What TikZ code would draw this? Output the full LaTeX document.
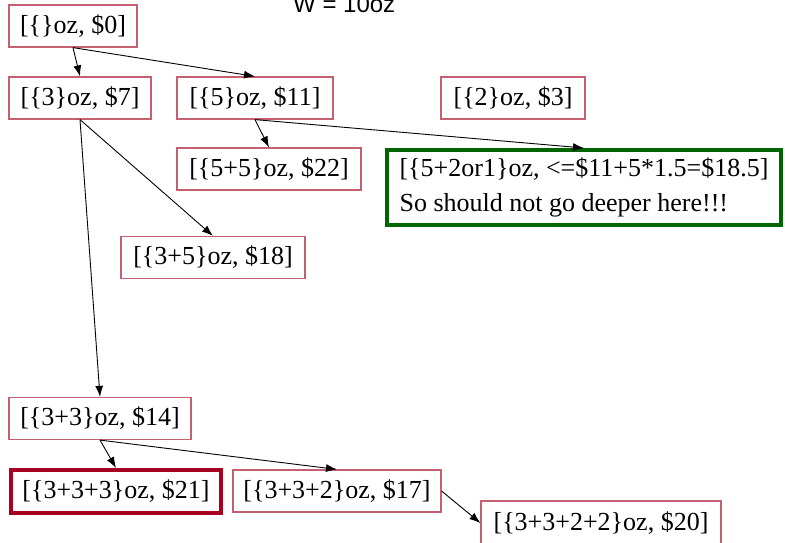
\documentclass[tikz,border=0pt]{standalone}
\usepackage{fontspec}
\setmainfont{Liberation Serif}
\newfontfamily\capfont{Liberation Sans}
\usetikzlibrary{arrows.meta}
\definecolor{boxred}{RGB}{196,96,112}
\definecolor{bestred}{RGB}{168,0,32}
\definecolor{stopgreen}{RGB}{0,100,0}

\begin{document}
\begin{tikzpicture}[x=1pt,y=-1pt,
  state/.style={draw=boxred,line width=1.2pt,fill=white,minimum height=42pt,inner sep=0pt,font=\fontsize{26}{31}\selectfont},
  best/.style={state,draw=bestred,line width=4pt},
  pruned/.style={state,draw=stopgreen,line width=4pt,align=left,font=\fontsize{26}{35}\selectfont},
  link/.style={-{Latex[length=11pt,width=8pt]},line width=0.9pt}]
  \useasboundingbox (0,0) rectangle (785,542);
  \node[anchor=base west,inner sep=0pt,font=\capfont\fontsize{24}{28}\selectfont] (cap) at (293,12) {W = 10oz};
  % tree of partial fillings
  \node[state,minimum width=128pt] (s0) at (73,26) {[\{\}oz, \$0]};
  \node[state,minimum width=142pt] (s3) at (80,98) {[\{3\}oz, \$7]};
  \node[state,minimum width=156pt] (s5) at (255,98) {[\{5\}oz, \$11]};
  \node[state,minimum width=144pt] (s2) at (513,98) {[\{2\}oz, \$3]};
  \node[state,minimum width=184pt] (s55) at (269,169) {[\{5+5\}oz, \$22]};
  \node[pruned,minimum width=394pt,minimum height=75pt] (s52) at (584,187.5)
    {[\{5+2or1\}oz, <=\$11+5*1.5=\$18.5]\\So should not go deeper here!!!};
  \node[state,minimum width=184pt] (s35) at (213,257.5) {[\{3+5\}oz, \$18]};
  \node[state,minimum width=182pt] (s33) at (100,418.5) {[\{3+3\}oz, \$14]};
  \node[best,minimum width=210pt,minimum height=43pt] (s333) at (116,491.5) {[\{3+3+3\}oz, \$21]};
  \node[state,minimum width=208pt] (s332) at (337,491) {[\{3+3+2\}oz, \$17]};
  \node[state,minimum width=240pt,minimum height=44pt] (s3322) at (601,523) {[\{3+3+2+2\}oz, \$20]};

  \draw[link] (s0.south) -- (s3.north);
  \draw[link] (s0.south) -- (s5.north);
  \draw[link] (s3.south) -- (s35.north);
  \draw[link] (s3.south) -- (s33.north);
  \draw[link] (s5.south) -- (s55.north);
  \draw[link] (s5.south) -- (s52.north);
  \draw[link] (s33.south) -- (s333.north);
  \draw[link] (s33.south) -- (s332.north);
  \draw[link] (s332.east) -- (s3322.west);
\end{tikzpicture}
\end{document}
